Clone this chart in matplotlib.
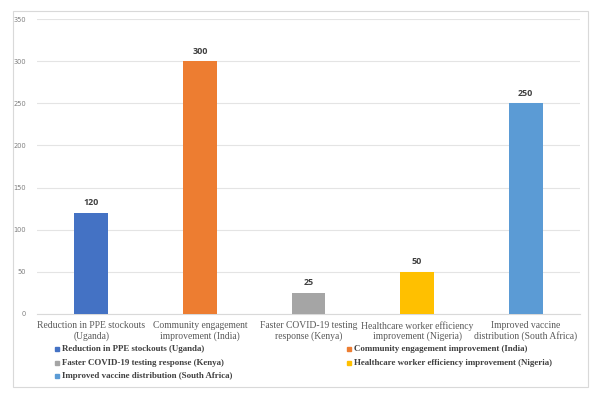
import matplotlib
matplotlib.use("Agg")
import matplotlib.pyplot as plt
from matplotlib.patches import Rectangle

categories = [
    "Reduction in PPE stockouts\n(Uganda)",
    "Community engagement\nimprovement (India)",
    "Faster COVID-19 testing\nresponse (Kenya)",
    "Healthcare worker efficiency\nimprovement (Nigeria)",
    "Improved vaccine\ndistribution (South Africa)",
]
series_names = [
    "Reduction in PPE stockouts (Uganda)",
    "Community engagement improvement (India)",
    "Faster COVID-19 testing response (Kenya)",
    "Healthcare worker efficiency improvement (Nigeria)",
    "Improved vaccine distribution (South Africa)",
]
values = [120, 300, 25, 50, 250]
colors = ["#4472C4", "#ED7D31", "#A5A5A5", "#FFC000", "#5B9BD5"]
yticks = [0, 50, 100, 150, 200, 250, 300, 350]

W, H = 594, 394
fig = plt.figure(figsize=(W / 100, H / 100), dpi=100)
fig.patch.set_facecolor("white")

# outer border
fig.patches.append(Rectangle((13 / W, 1 - 387 / H), 575 / W, 376 / H,
                             transform=fig.transFigure, fill=False,
                             edgecolor="#D9D9D9", linewidth=0.8))

ax = fig.add_axes([37 / W, 1 - 314 / H, 543 / W, 295 / H])
x = list(range(len(values)))
bars = ax.bar(x, values, width=0.31, color=colors, zorder=3)
ax.set_xlim(-0.5, len(values) - 0.5)
ax.set_ylim(0, 350)
ax.set_yticks(yticks)
ax.set_yticklabels([str(v) for v in yticks], fontsize=4.8, color="#7F7F7F",
                   family="DejaVu Sans")
ax.set_xticks(x)
ax.set_xticklabels(categories, fontsize=6.9, color="#595959",
                   family="Liberation Serif", linespacing=1.15)
ax.tick_params(axis="y", length=0, pad=8)
ax.tick_params(axis="x", length=0, pad=5)
ax.grid(axis="y", color="#E4E4E4", linewidth=0.8, zorder=0)
for s in ["top", "right", "left"]:
    ax.spines[s].set_visible(False)
ax.spines["bottom"].set_color("#D9D9D9")
ax.spines["bottom"].set_linewidth(0.8)

for b, v in zip(bars, values):
    ax.annotate(str(v), (b.get_x() + b.get_width() / 2, v), xytext=(0, 4),
                textcoords="offset points", ha="center", va="bottom",
                fontsize=6.4, fontweight="bold", color="#404040",
                family="Open Sans")

# legend (row-wise, two columns)
rows = [349, 363, 376]
cols = [(57, 62), (349, 354)]
for i, (name, c) in enumerate(zip(series_names, colors)):
    r, cc = divmod(i, 2)
    yy = 1 - rows[r] / H
    mx, tx = cols[cc]
    fig.patches.append(Rectangle(((mx - 2.2) / W, yy - 2.2 / H), 4.4 / W, 4.4 / H,
                                 transform=fig.transFigure, color=c))
    fig.text(tx / W, yy, name, fontsize=6.4, fontweight="bold",
             family="Liberation Serif", color="#404040", va="center", ha="left")

fig.savefig("out.png", dpi=100)
